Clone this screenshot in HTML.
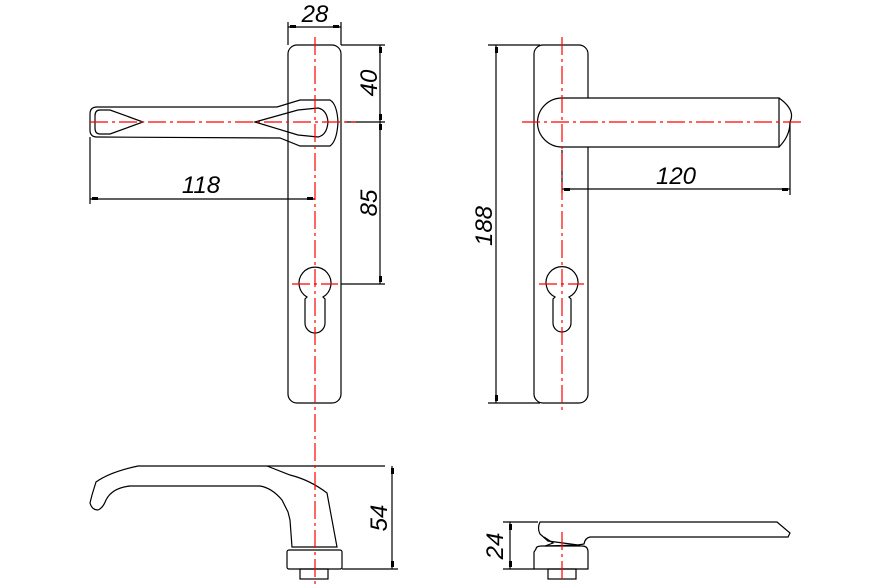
<!DOCTYPE html>
<html><head><meta charset="utf-8"><style>
html,body{margin:0;padding:0;background:#fff;}
svg{display:block;}
text{font-family:"Liberation Sans",sans-serif;font-size:24px;font-style:italic;fill:#000;}
</style></head><body>
<svg width="891" height="588" viewBox="0 0 891 588" xmlns="http://www.w3.org/2000/svg">
<g fill="none" stroke="#000" stroke-width="1.2">
<rect x="288" y="45" width="53" height="358" rx="9"/>
<path d="M307,297 A16,16 0 1 1 323,297 L325,299 L325,323 A10,10 0 0 1 305,323 L305,299 Z"/>
<path d="M97,107 L277,107 L300,100 L330,100 Q337,104 338,122 Q337,141 330,146 L300,146 L280,138 L97,137 Q90,137 90,130 L90,114 Q90,107 97,107 Z"/>
<path d="M100,110 L110,110 L143,122 L110,134 L100,134 Q95,134 95,128 L95,116 Q95,110 100,110 Z"/>
<path d="M255,122 L298,110 L318,108 Q327,110 328,122 Q327,135 318,137 L298,135 Z"/>
<line x1="288" y1="22" x2="288" y2="45"/><line x1="341" y1="22" x2="341" y2="45"/>
<line x1="288" y1="27" x2="341" y2="27"/>
<line x1="341" y1="45" x2="385" y2="45"/><line x1="345" y1="122" x2="385" y2="122"/><line x1="341" y1="284" x2="385" y2="284"/>
<line x1="380" y1="45" x2="380" y2="284"/>
<line x1="90" y1="137" x2="90" y2="204"/>
<line x1="90" y1="199" x2="315" y2="199"/>
<rect x="534" y="45" width="54" height="358" rx="9"/>
<path d="M555,297 A16,16 0 1 1 569,297 L571,299 L571,323 A9,9 0 0 1 553,323 L553,299 Z"/>
<path d="M562,98 L779,98 L779,147 L562,147 A24,24 0 0 1 562,98" fill="#fff"/>
<path d="M779,98 Q796,110 790,122 Q790,136 779,147"/>
<line x1="488" y1="45" x2="540" y2="45"/><line x1="488" y1="403" x2="540" y2="403"/>
<line x1="496" y1="45" x2="496" y2="403"/>
<line x1="562" y1="150" x2="562" y2="193"/>
<line x1="790" y1="122" x2="790" y2="195"/>
<line x1="562" y1="189" x2="790" y2="189"/>
<path d="M138,466 L385,466"/>
<path d="M138,466 Q110,472 96,482 L92,495 L90,503 Q92,510 98,510 Q103,508 106,500 Q112,488 130,486 L260,486 Q272,488 282,500 L288,512 L290,520 L292,547 L337,547 L327,493 Q310,480 290,475 L267,466"/>
<rect x="287" y="550" width="55" height="19" rx="2"/>
<rect x="300" y="569" width="28" height="10"/>
<line x1="342" y1="569" x2="398" y2="569"/>
<line x1="392" y1="466" x2="392" y2="569"/>
<path d="M540,522 L777,522 L790,533 L788,537 L590,537 Q585,538 584,544 L578,545 L548,541 L540,534 Q537,528 540,522 Z"/>
<path d="M544,537 L553,543 L545,546 L580,545"/>
<path d="M536,549 Q536,546 542,546 L582,546 Q588,546 588,552 L588,569 L534,569 L534,552 Z"/>
<rect x="548" y="569" width="28" height="10"/>
<line x1="503" y1="522" x2="538" y2="522"/><line x1="503" y1="569" x2="534" y2="569"/>
<line x1="510" y1="522" x2="510" y2="569"/>
</g>
<g fill="#000">
<rect x="290" y="25" width="6" height="3"/><rect x="333" y="25" width="6" height="3"/>
<rect x="379" y="47" width="3" height="6"/><rect x="379" y="114" width="3" height="6"/>
<rect x="379" y="124" width="3" height="6"/><rect x="379" y="276" width="3" height="6"/>
<rect x="92" y="197" width="6" height="3"/><rect x="307" y="197" width="6" height="3"/>
<rect x="495" y="47" width="3" height="6"/><rect x="495" y="395" width="3" height="6"/>
<rect x="564" y="188" width="6" height="3"/><rect x="782" y="188" width="6" height="3"/>
<rect x="391" y="468" width="3" height="6"/><rect x="391" y="561" width="3" height="6"/>
<rect x="509" y="524" width="3" height="6"/><rect x="509" y="561" width="3" height="6"/>
</g>
<g stroke="#f00" stroke-width="1.2" stroke-dasharray="18,4,3,4" fill="none">
<line x1="315" y1="37" x2="315" y2="584"/>
<line x1="90" y1="122" x2="356" y2="122"/>
<line x1="292" y1="284" x2="338" y2="284"/>
<line x1="562" y1="37" x2="562" y2="410"/>
<line x1="522" y1="122" x2="803" y2="122"/>
<line x1="539" y1="284" x2="584" y2="284"/>
<line x1="562" y1="532" x2="562" y2="583"/>
</g>
<g>
<text x="315" y="22" text-anchor="middle">28</text>
<text x="201" y="193" text-anchor="middle">118</text>
<text x="676" y="184" text-anchor="middle">120</text>
<text transform="translate(377,83) rotate(-90)" text-anchor="middle">40</text>
<text transform="translate(377,203) rotate(-90)" text-anchor="middle">85</text>
<text transform="translate(492,226) rotate(-90)" text-anchor="middle">188</text>
<text transform="translate(387,518) rotate(-90)" text-anchor="middle">54</text>
<text transform="translate(503,546) rotate(-90)" text-anchor="middle">24</text>
</g>
</svg>
</body></html>
